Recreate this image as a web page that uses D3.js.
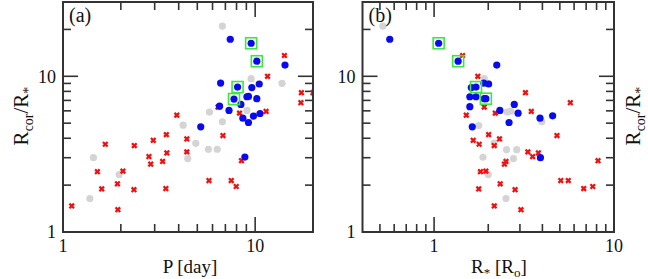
<!DOCTYPE html>
<html>
<head>
<meta charset="utf-8">
<script src="https://cdn.jsdelivr.net/npm/d3@7"></script>
<style>
  body { margin: 0; background: #fff; }
  svg { display: block; }
  text { font-family: "Liberation Serif", "DejaVu Serif", serif; fill: #111; }
</style>
</head>
<body>
<svg id="chart" width="648" height="279"></svg>
<script>
// panel (a): [P in days, Rcor/R*]
const aBlue = [[7.42,17.3],[9.53,16.3],[10.2,12.5],[14.3,11.8],[6.61,9.05],[8.10,8.53],[9.61,8.46],[10.5,8.92],
  [9.06,7.39],[9.23,7.43],[7.76,7.14],[10.2,7.18],[6.53,6.43],[8.43,6.60],[7.31,6.04],[9.80,5.55],[10.6,5.77],
  [8.63,5.38],[9.23,5.05],[5.21,4.74],[8.84,3.03]]
const aGray = [[6.75,21.0],[9.53,9.66],[13.8,9.01],[5.78,5.89],[9.06,6.04],[4.22,4.85],[6.75,5.10],[4.91,3.71],
  [5.71,3.40],[6.35,3.40],[4.46,2.96],[1.44,3.00],[1.96,2.34],[1.38,1.64]]
const aRed = [[14.2,13.6],[11.6,10.0],[17.4,7.85],[20.0,7.85],[17.3,6.77],[6.41,6.34],[11.4,5.95],[8.29,5.80],
  [3.91,5.63],[6.80,4.16],[3.45,4.22],[4.41,3.96],[2.95,3.88],[1.66,3.66],[2.35,3.59],[3.47,3.22],[4.41,3.27],
  [2.80,3.05],[2.86,2.73],[3.30,2.84],[8.49,2.87],[1.51,2.44],[2.05,2.46],[1.92,2.04],[1.59,1.89],[2.34,1.87],
  [3.43,1.90],[5.75,2.14],[7.51,2.14],[7.97,1.96],[1.11,1.47],[1.93,1.39]]
const aBoxed = [[9.53,16.3],[10.2,12.5],[8.10,8.53],[7.76,7.14]]

// panel (b): [R* in solar radii, Rcor/R*]
const bBlue = [[0.567,17.3],[1.06,16.3],[1.36,12.5],[2.23,11.8],[1.89,9.05],[2.01,8.92],[1.61,8.46],[1.71,8.53],
  [1.58,7.39],[1.71,7.39],[1.90,7.18],[1.94,7.18],[1.58,6.38],[2.32,6.04],[2.79,6.60],[2.93,5.80],[2.61,5.05],
  [1.63,4.74],[3.88,5.38],[4.56,5.57],[3.90,3.00]]
const bGray = [[0.519,21.0],[1.90,9.66],[2.00,9.01],[2.55,5.89],[2.67,5.97],[1.77,4.83],[3.97,5.10],[2.16,3.73],
  [2.53,3.38],[2.88,3.38],[1.87,3.02],[2.76,2.96],[2.00,2.34],[2.51,1.64]]
const bRed = [[1.44,13.6],[1.75,10.0],[3.22,7.85],[5.72,6.77],[1.90,6.34],[3.47,5.95],[2.19,5.80],[1.51,5.63],
  [4.82,4.16],[2.01,4.22],[2.31,3.96],[1.65,3.88],[1.78,3.66],[2.16,3.59],[3.32,3.27],[3.80,3.22],[3.53,3.05],
  [2.51,2.84],[2.46,2.73],[8.15,2.87],[1.94,2.46],[1.81,2.44],[2.33,2.04],[5.06,2.14],[5.57,2.14],[1.77,1.89],
  [2.82,1.87],[6.79,1.90],[7.62,1.96],[2.16,1.47],[3.04,1.39]]
const bBoxed = [[1.06,16.3],[1.36,12.5],[1.71,8.53],[1.94,7.18]]

const yMajor = [1, 10]
const yMinor = [2,3,4,5,6,7,8,9,20]

const svg = d3.select("#chart")
const frameColor = "#333"
const plotTop = 2, plotBottom = 232

const y = d3.scaleLog().domain([1, 30]).range([plotBottom, plotTop])

function drawPanel(id, x, xMajor, xMinor, blue, gray, red, boxed, tag) {
  const [x0, x1] = x.range()
  const g = svg.append("g")

  g.append("clipPath").attr("id", "clip" + id)
    .append("rect").attr("x", x0).attr("y", plotTop).attr("width", x1 - x0).attr("height", plotBottom - plotTop)

  const ticks = g.append("g").attr("stroke", frameColor).attr("stroke-width", 1.6)
  const xt = xMajor.map(v => [v, 15]).concat(xMinor.map(v => [v, 8]))
  xt.forEach(([v, len]) => {
    ticks.append("line").attr("x1", x(v)).attr("x2", x(v)).attr("y1", plotBottom).attr("y2", plotBottom - len)
    ticks.append("line").attr("x1", x(v)).attr("x2", x(v)).attr("y1", plotTop).attr("y2", plotTop + len)
  })
  const yt = yMajor.map(v => [v, 15]).concat(yMinor.map(v => [v, 8]))
  yt.forEach(([v, len]) => {
    ticks.append("line").attr("y1", y(v)).attr("y2", y(v)).attr("x1", x0).attr("x2", x0 + len)
    ticks.append("line").attr("y1", y(v)).attr("y2", y(v)).attr("x1", x1).attr("x2", x1 - len)
  })

  const pts = g.append("g").attr("clip-path", `url(#clip${id})`)
  pts.selectAll("circle.gray").data(gray).join("circle").attr("class", "gray")
    .attr("cx", d => x(d[0])).attr("cy", d => y(d[1])).attr("r", 3.6).attr("fill", "#d4d4d4")
  pts.selectAll("path.red").data(red).join("path").attr("class", "red")
    .attr("transform", d => `translate(${x(d[0])},${y(d[1])})`)
    .attr("d", "M-2.3,-2.3L2.3,2.3M-2.3,2.3L2.3,-2.3")
    .attr("stroke", "#f01010").attr("stroke-width", 2.3).attr("fill", "none")
  pts.selectAll("circle.blue").data(blue).join("circle").attr("class", "blue")
    .attr("cx", d => x(d[0])).attr("cy", d => y(d[1])).attr("r", 3.6).attr("fill", "#0a0af0")
  pts.selectAll("rect.box").data(boxed).join("rect").attr("class", "box")
    .attr("x", d => x(d[0]) - 5.5).attr("y", d => y(d[1]) - 5.5).attr("width", 11).attr("height", 11)
    .attr("fill", "none").attr("stroke", "#3de83d").attr("stroke-width", 1.6)

  g.append("rect").attr("x", x0).attr("y", plotTop).attr("width", x1 - x0).attr("height", plotBottom - plotTop)
    .attr("fill", "none").attr("stroke", frameColor).attr("stroke-width", 2)

  // tick labels
  xMajor.forEach(v => {
    g.append("text").attr("x", x(v)).attr("y", 252).attr("text-anchor", "middle")
      .attr("font-size", 18).text(v)
  })
  yMajor.forEach(v => {
    g.append("text").attr("x", x0 - 7).attr("y", y(v)).attr("dy", "0.35em").attr("text-anchor", "end")
      .attr("font-size", 18).text(v)
  })
  g.append("text").attr("x", x0 + 6).attr("y", 22).attr("font-size", 20).text(tag)
  return g
}

const xa = d3.scaleLog().domain([1, 20]).range([63, 313])
const xb = d3.scaleLog().domain([0.4, 10]).range([362.5, 614])

drawPanel("a", xa, [1, 10], [2,3,4,5,6,7,8,9], aBlue, aGray, aRed, aBoxed, "(a)")
drawPanel("b", xb, [1, 10], [0.5,0.6,0.7,0.8,0.9,2,3,4,5,6,7,8,9], bBlue, bGray, bRed, bBoxed, "(b)")

// axis titles
function yTitle(cx, cy) {
  const t = svg.append("text").attr("transform", `translate(${cx},${cy}) rotate(-90)`)
    .attr("text-anchor", "middle").attr("font-size", 21)
  t.append("tspan").text("R")
  t.append("tspan").attr("font-size", 14).attr("dy", 5).text("cor")
  t.append("tspan").attr("dy", -5).text("/R")
  t.append("tspan").attr("font-size", 14).attr("dy", 5).text("*")
}
yTitle(28, 116)
yTitle(640, 116)

const pt = svg.append("text").attr("x", 190).attr("y", 273).attr("text-anchor", "middle").attr("font-size", 19)
pt.text("P [day]")

const rt = svg.append("text").attr("x", 499).attr("y", 273).attr("text-anchor", "middle").attr("font-size", 19)
rt.append("tspan").text("R")
rt.append("tspan").attr("font-size", 13).attr("dy", 4).text("*")
rt.append("tspan").attr("dy", -4).text(" [R")
rt.append("tspan").attr("font-size", 13).attr("dy", 4).text("o")
rt.append("tspan").attr("dy", -4).text("]")
</script>
</body>
</html>
